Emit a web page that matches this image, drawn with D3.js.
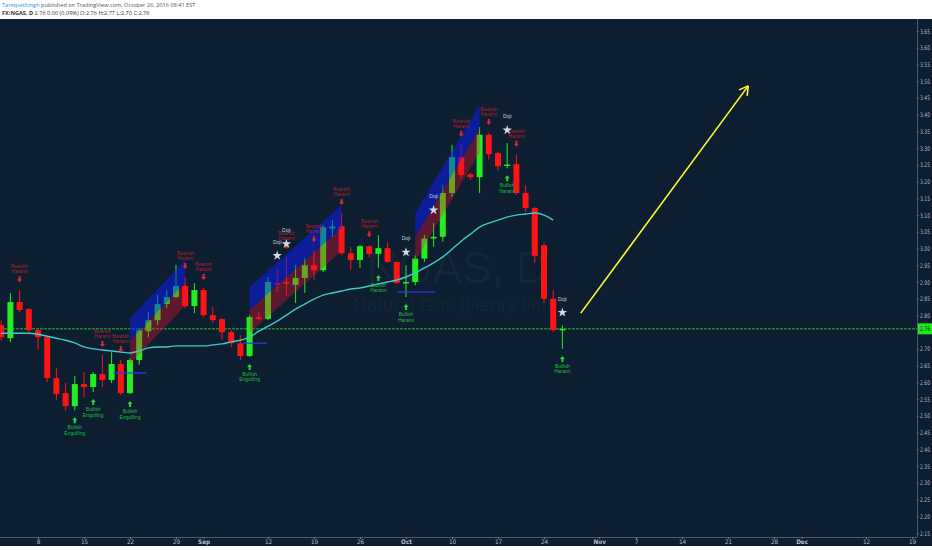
<!DOCTYPE html>
<html><head><meta charset="utf-8">
<script src="https://cdn.jsdelivr.net/npm/d3@7"></script>
<style>body{margin:0;background:#fff;}svg{display:block}</style>
</head><body><svg id="c" width="932" height="550"></svg>
<script>
// ---- data ----
const opens = [2.771,2.732,2.840,2.819,2.756,2.735,2.613,2.568,2.529,2.595,
 2.586,2.625,2.607,2.655,2.568,2.667,2.753,2.786,2.834,2.855,
 2.888,2.828,2.876,2.801,2.789,2.750,2.717,2.679,2.795,2.790,
 2.897,2.900,2.891,2.912,2.950,2.935,3.060,3.067,2.986,2.966,
 3.007,2.984,3.001,2.960,2.897,2.900,2.970,3.030,3.035,3.166,
 3.273,3.222,3.213,3.340,3.285,3.248,3.252,3.166,3.121,3.010,
 2.850,2.760];
const highs = [2.785,2.867,2.875,2.822,2.760,2.740,2.643,2.598,2.619,2.631,
 2.631,2.682,2.690,2.667,2.673,2.762,2.810,2.861,2.876,2.951,
 2.915,2.897,2.882,2.825,2.792,2.756,2.741,2.801,2.810,2.915,
 2.940,2.975,2.951,2.972,2.995,3.070,3.085,3.106,3.004,3.010,
 3.010,3.040,3.019,2.962,2.950,2.980,3.040,3.076,3.190,3.310,
 3.310,3.228,3.363,3.345,3.290,3.315,3.280,3.190,3.124,3.016,
 2.876,2.770];
const lows = [2.725,2.720,2.810,2.750,2.697,2.600,2.547,2.517,2.517,2.556,
 2.571,2.586,2.598,2.562,2.565,2.652,2.735,2.771,2.822,2.852,
 2.822,2.807,2.795,2.777,2.727,2.705,2.667,2.676,2.786,2.786,
 2.870,2.860,2.837,2.867,2.906,2.930,3.035,2.980,2.936,2.942,
 2.975,2.942,2.957,2.894,2.855,2.890,2.960,3.005,3.020,3.154,
 3.210,3.205,3.166,3.265,3.234,3.240,3.160,3.110,2.957,2.837,
 2.750,2.700];
const closes = [2.735,2.840,2.816,2.756,2.735,2.613,2.565,2.529,2.595,2.586,
 2.625,2.607,2.655,2.568,2.667,2.756,2.786,2.834,2.855,2.888,
 2.828,2.876,2.801,2.786,2.750,2.717,2.679,2.795,2.790,2.900,
 2.893,2.895,2.912,2.950,2.935,3.064,3.066,2.986,2.966,3.007,
 2.984,3.001,2.960,2.897,2.900,2.970,3.030,3.035,3.166,3.273,
 3.220,3.213,3.340,3.282,3.246,3.251,3.166,3.121,2.978,2.850,
 2.756,2.760];
const maValues = [2.747,2.747,2.747,2.747,2.744,2.738,2.732,2.726,2.718,2.706,
 2.700,2.697,2.694,2.691,2.688,2.694,2.703,2.706,2.706,2.709,
 2.709,2.709,2.709,2.712,2.715,2.721,2.726,2.735,2.753,2.768,
 2.783,2.801,2.819,2.834,2.849,2.861,2.867,2.873,2.879,2.882,
 2.888,2.894,2.900,2.906,2.915,2.927,2.942,2.957,2.975,2.998,
 3.022,3.043,3.064,3.076,3.085,3.094,3.100,3.103,3.106,3.100,
 3.085];
const tickIdx = [4,9,14,19,22,29,34,39,44,49,54,59,65,69,74,79,84,87,94,99];
const tickLabels = ["8","15","22","29","Sep","12","19","26","Oct","10","17","24","Nov","7","14","21","28","Dec","12","19"];
const monthLabels = ["Sep","Oct","Nov","Dec"];
const priceTicks = [2.15,2.20,2.25,2.30,2.35,2.40,2.45,2.50,2.55,2.60,2.65,2.70,2.80,2.85,2.90,2.95,3.00,3.05,3.10,3.15,3.20,3.25,3.30,3.35,3.40,3.45,3.50,3.55,3.60,3.65];
const lastPrice = 2.76;
const bearishIdx = [2,11,13,20,22,31,34,37,40,50,53,56];
const bullishIdx = [8,10,14,27,41,44,55,61];
const bullishNames = ["Engulfing","Engulfing","Engulfing","Engulfing","Harami","Harami","Harami","Harami"];
const dojiIdx = [30,31,44,47,55,61];
const chStart = [14,27,45], chEnd = [20,37,52];
const chTopStart = [2.792,2.885,3.106], chTopEnd = [2.966,3.130,3.429], chWidth = [0.137,0.137,0.143];
const blueStart = [12.2,26.3,43], blueEnd = [15.8,28.9,47.2], bluePrice = [2.628,2.717,2.870];
const arrowFrom = [63, 2.807], arrowTo = [81.2, 3.486];

// ---- drawing ----
const svg = d3.select("#c");
const P = {left:0, right:917, top:19, bottom:537};
const x = d3.scaleLinear().domain([0,99]).range([1.2,912]);
const y = d3.scaleLinear().domain([2.15,3.65]).range([533,31]);
const bg = "#0c1e30";
const GREEN = "#22ee22", RED = "#ff1414";
const axisFont = "Liberation Sans Narrow, DejaVu Sans Condensed, Arial, sans-serif";

svg.append("rect").attr("width",932).attr("height",550).attr("fill","#fff");
svg.append("rect").attr("x",0).attr("y",P.top).attr("width",932).attr("height",P.bottom-P.top+9).attr("fill",bg);

// header
const h1 = svg.append("text").attr("x",2).attr("y",7).attr("font-family","Open Sans, sans-serif").attr("font-size",5.6);
h1.append("tspan").attr("fill","#2196f3").text("Tareqsethingh");
h1.append("tspan").attr("fill","#555").text(" published on TradingView.com, October 26, 2016 08:41 EST");
const h2 = svg.append("text").attr("x",2).attr("y",14.5).attr("font-family","Open Sans, sans-serif").attr("font-size",5.6).attr("fill","#333");
h2.append("tspan").attr("font-weight","bold").text("FX:NGAS, D");
h2.append("tspan").text(" 2.76 0.00 (0.09%) O:2.76 H:2.77 L:2.70 C:2.76");

svg.append("defs").append("clipPath").attr("id","clip").append("rect")
  .attr("x",P.left).attr("y",P.top).attr("width",P.right-P.left).attr("height",P.bottom-P.top);
const g = svg.append("g").attr("clip-path","url(#clip)");

// watermark
g.append("text").attr("x",457).attr("y",283).attr("text-anchor","middle")
  .attr("font-family","Liberation Sans, Arial, sans-serif").attr("font-size",44)
  .attr("fill","#ffffff").attr("fill-opacity",0.035).text("NGAS, D");
g.append("text").attr("x",458).attr("y",311).attr("text-anchor","middle")
  .attr("font-family","Liberation Sans, Arial, sans-serif").attr("font-size",19)
  .attr("fill","#ffffff").attr("fill-opacity",0.035).text("Natural Gas (Henry Hub)");

// last price line
g.append("line").attr("x1",P.left).attr("x2",P.right).attr("y1",y(lastPrice)).attr("y2",y(lastPrice))
  .attr("stroke","#1fc21f").attr("stroke-width",1).attr("stroke-dasharray","3,1");

// candles
const bars = opens.map((o,i)=>({i,o,h:highs[i],l:lows[i],c:closes[i]}));
const cg = g.append("g");
cg.selectAll("line.w").data(bars).join("line").attr("class","w")
  .attr("x1",d=>x(d.i)).attr("x2",d=>x(d.i)).attr("y1",d=>y(d.h)).attr("y2",d=>y(d.l))
  .attr("stroke",d=>d.c>=d.o?GREEN:RED).attr("stroke-width",1);
cg.selectAll("rect.b").data(bars).join("rect").attr("class","b")
  .attr("x",d=>x(d.i)-3).attr("width",6)
  .attr("y",d=>y(Math.max(d.o,d.c)))
  .attr("height",d=>Math.max(1.5,Math.abs(y(d.o)-y(d.c))))
  .attr("fill",d=>d.c>=d.o?GREEN:RED);

// channels
chStart.forEach((s,k)=>{
  const e = chEnd[k], t0 = chTopStart[k], t1 = chTopEnd[k], w = chWidth[k];
  const up = [[x(s),y(t0)],[x(e),y(t1)],[x(e),y(t1-w/2)],[x(s),y(t0-w/2)]];
  const lo = [[x(s),y(t0-w/2)],[x(e),y(t1-w/2)],[x(e),y(t1-w)],[x(s),y(t0-w)]];
  g.append("path").attr("d",d3.line()(up)+"Z").attr("fill","#0a1cff").attr("fill-opacity",0.5);
  g.append("path").attr("d",d3.line()(lo)+"Z").attr("fill","#ff1030").attr("fill-opacity",0.33);
});

// blue pattern lines
blueStart.forEach((s,k)=>{
  g.append("line").attr("x1",x(s)).attr("x2",x(blueEnd[k])).attr("y1",y(bluePrice[k])).attr("y2",y(bluePrice[k]))
    .attr("stroke","#2a3ce0").attr("stroke-width",1.4).attr("stroke-opacity",0.85);
});

// moving average
g.append("path").datum(maValues).attr("fill","none").attr("stroke","#3fc9cc").attr("stroke-width",1.4)
  .attr("d",d3.line().x((d,i)=>x(i)).y(d=>y(d)).curve(d3.curveMonotoneX));

// annotations
const fnt = "Liberation Sans, Arial, sans-serif";
bearishIdx.forEach(i=>{
  const cx = x(i), yh = y(highs[i]);
  g.append("path").attr("d",`M${cx},${yh-8} L${cx-2.5},${yh-11} L${cx-1},${yh-11} L${cx-1},${yh-14} L${cx+1},${yh-14} L${cx+1},${yh-11} L${cx+2.5},${yh-11}Z`)
    .attr("fill","#e0262f");
  g.append("text").attr("x",cx).attr("y",yh-22).attr("text-anchor","middle").attr("font-family",fnt).attr("font-size",5)
    .attr("fill","#b01e2a").text("Bearish");
  g.append("text").attr("x",cx).attr("y",yh-17).attr("text-anchor","middle").attr("font-family",fnt).attr("font-size",5)
    .attr("fill","#b01e2a").text("Harami");
});
bullishIdx.forEach((i,k)=>{
  const cx = x(i), yl = y(lows[i]);
  g.append("path").attr("d",`M${cx},${yl+7} L${cx-2.5},${yl+10} L${cx-1},${yl+10} L${cx-1},${yl+13} L${cx+1},${yl+13} L${cx+1},${yl+10} L${cx+2.5},${yl+10}Z`)
    .attr("fill","#25d83a");
  g.append("text").attr("x",cx).attr("y",yl+19).attr("text-anchor","middle").attr("font-family",fnt).attr("font-size",5)
    .attr("fill","#1fbf3a").text("Bullish");
  g.append("text").attr("x",cx).attr("y",yl+24.5).attr("text-anchor","middle").attr("font-family",fnt).attr("font-size",5)
    .attr("fill","#1fbf3a").text(bullishNames[k]);
});
const star = d3.symbol().type(d3.symbolStar).size(28);
dojiIdx.forEach(i=>{
  const cx = x(i), yh = y(highs[i]);
  g.append("path").attr("d",star()).attr("transform",`translate(${cx},${yh-13})`).attr("fill","#d6d9e6");
  g.append("text").attr("x",cx).attr("y",yh-25).attr("text-anchor","middle").attr("font-family",fnt).attr("font-size",5)
    .attr("fill","#c8ccd6").text("Doji");
});

// yellow arrow
const ax0 = x(arrowFrom[0]), ay0 = y(arrowFrom[1]), ax1 = x(arrowTo[0]), ay1 = y(arrowTo[1]);
g.append("line").attr("x1",ax0).attr("y1",ay0).attr("x2",ax1).attr("y2",ay1).attr("stroke","#ffff2a").attr("stroke-width",1.6);
const ang = Math.atan2(ay1-ay0, ax1-ax0);
[Math.PI*5/6, -Math.PI*5/6].forEach(a=>{
  g.append("line").attr("x1",ax1).attr("y1",ay1)
    .attr("x2",ax1+10*Math.cos(ang+a)).attr("y2",ay1+10*Math.sin(ang+a))
    .attr("stroke","#ffff2a").attr("stroke-width",1.6);
});

// axes
const yAxis = svg.append("g").attr("transform",`translate(${P.right},0)`)
  .call(d3.axisRight(y).tickValues(priceTicks).tickFormat(d3.format(".2f")).tickSize(1.5).tickPadding(1.5));
yAxis.select(".domain").attr("stroke","#4a5b6c").attr("d",`M0.5,${P.top}V${P.bottom}`);
yAxis.selectAll(".tick line").attr("stroke","#6c7a88");
yAxis.selectAll("text").attr("fill","#b8bec8").attr("font-size",6.3).attr("font-family",axisFont)
  .attr("textLength",10).attr("lengthAdjust","spacingAndGlyphs");

const xAxis = svg.append("g").attr("transform",`translate(0,${P.bottom})`)
  .call(d3.axisBottom(x).tickValues(tickIdx).tickFormat((d,i)=>tickLabels[i]).tickSize(2).tickPadding(1));
xAxis.select(".domain").attr("stroke","#4a5b6c").attr("d",`M${P.left},0.5H${P.right}`);
xAxis.selectAll(".tick line").attr("stroke","#6c7a88");
xAxis.selectAll("text").attr("fill","#b8bec8").attr("font-size",6.3)
  .attr("font-family",axisFont)
  .attr("font-weight",(d,i)=>monthLabels.includes(tickLabels[i])?"bold":"normal");

// price label
const pl = svg.append("g").attr("transform",`translate(${P.right+1},${y(lastPrice)})`);
pl.append("rect").attr("x",0).attr("y",-5.5).attr("width",14).attr("height",11).attr("fill","#22e622");
pl.append("text").attr("x",2).attr("y",2.3).attr("font-size",6.3).attr("fill","#0a2a0a")
  .attr("font-family",axisFont).attr("textLength",10).attr("lengthAdjust","spacingAndGlyphs").text(lastPrice.toFixed(2));

// bottom white strip
svg.append("rect").attr("x",0).attr("y",546).attr("width",932).attr("height",4).attr("fill","#fff");
</script></body></html>
